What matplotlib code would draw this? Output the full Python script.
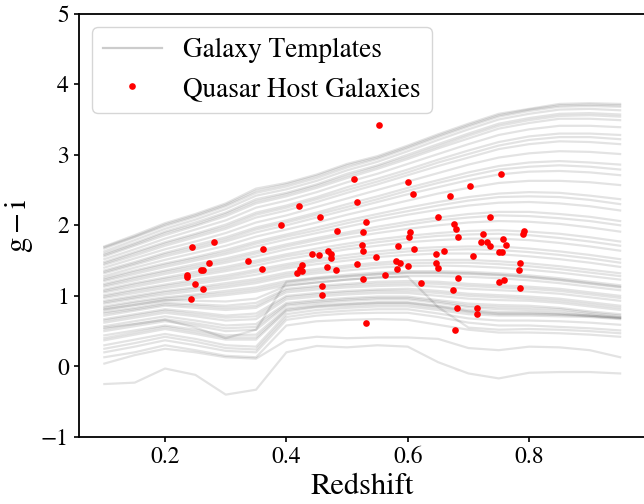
import matplotlib.pyplot as plt
from matplotlib.lines import Line2D

# Times-like look: STIX ships with matplotlib
plt.rcParams['font.family'] = 'STIXGeneral'
plt.rcParams['mathtext.fontset'] = 'stix'

# redshift grid of the template tracks
z_grid = [0.10, 0.15, 0.20, 0.25, 0.30, 0.35, 0.40, 0.45, 0.50,
          0.55, 0.60, 0.65, 0.70, 0.75, 0.80, 0.85, 0.90, 0.95]

# g-i colour tracks
templates = [
    [1.70, 1.86, 2.03, 2.16, 2.31, 2.52, 2.60, 2.72, 2.87, 2.98, 3.13, 3.29, 3.44, 3.58, 3.65, 3.72, 3.73, 3.72],
    [1.69, 1.84, 2.01, 2.14, 2.29, 2.49, 2.58, 2.70, 2.85, 2.96, 3.11, 3.27, 3.42, 3.56, 3.64, 3.70, 3.71, 3.70],
    [1.67, 1.83, 1.99, 2.12, 2.27, 2.46, 2.55, 2.67, 2.82, 2.94, 3.09, 3.25, 3.40, 3.54, 3.62, 3.68, 3.69, 3.68],
    [1.63, 1.79, 1.95, 2.08, 2.23, 2.42, 2.51, 2.63, 2.78, 2.90, 3.05, 3.21, 3.36, 3.50, 3.58, 3.64, 3.65, 3.63],
    [1.60, 1.75, 1.91, 2.04, 2.18, 2.37, 2.46, 2.58, 2.73, 2.85, 3.00, 3.15, 3.30, 3.44, 3.52, 3.58, 3.59, 3.57],
    [1.58, 1.73, 1.89, 2.01, 2.16, 2.34, 2.44, 2.56, 2.70, 2.83, 2.97, 3.12, 3.27, 3.41, 3.49, 3.55, 3.56, 3.54],
    [1.56, 1.71, 1.86, 1.99, 2.13, 2.31, 2.41, 2.53, 2.67, 2.80, 2.94, 3.09, 3.23, 3.37, 3.45, 3.51, 3.51, 3.49],
    [1.52, 1.66, 1.81, 1.94, 2.07, 2.25, 2.35, 2.47, 2.61, 2.73, 2.87, 3.01, 3.15, 3.28, 3.36, 3.41, 3.41, 3.39],
    [1.48, 1.62, 1.76, 1.88, 2.01, 2.18, 2.28, 2.40, 2.54, 2.66, 2.79, 2.93, 3.06, 3.18, 3.26, 3.30, 3.30, 3.28],
    [1.46, 1.60, 1.74, 1.86, 1.98, 2.15, 2.25, 2.37, 2.50, 2.62, 2.75, 2.89, 3.01, 3.13, 3.21, 3.25, 3.25, 3.22],
    [1.44, 1.57, 1.71, 1.83, 1.95, 2.11, 2.21, 2.33, 2.46, 2.58, 2.71, 2.84, 2.96, 3.08, 3.15, 3.19, 3.18, 3.15],
    [1.40, 1.53, 1.66, 1.77, 1.89, 2.04, 2.14, 2.26, 2.38, 2.50, 2.62, 2.74, 2.86, 2.96, 3.02, 3.05, 3.04, 3.01],
    [1.36, 1.48, 1.61, 1.72, 1.83, 1.97, 2.07, 2.18, 2.30, 2.41, 2.53, 2.64, 2.75, 2.84, 2.89, 2.91, 2.89, 2.86],
    [1.34, 1.46, 1.59, 1.69, 1.80, 1.94, 2.04, 2.15, 2.26, 2.37, 2.49, 2.60, 2.70, 2.79, 2.83, 2.85, 2.83, 2.79],
    [1.32, 1.44, 1.56, 1.66, 1.77, 1.90, 2.00, 2.11, 2.22, 2.33, 2.44, 2.54, 2.64, 2.72, 2.76, 2.77, 2.75, 2.71],
    [1.28, 1.40, 1.51, 1.61, 1.71, 1.84, 1.94, 2.04, 2.15, 2.25, 2.35, 2.45, 2.53, 2.60, 2.63, 2.63, 2.61, 2.57],
    [1.25, 1.36, 1.46, 1.55, 1.65, 1.77, 1.87, 1.97, 2.07, 2.16, 2.25, 2.33, 2.40, 2.45, 2.47, 2.46, 2.42, 2.37],
    [1.23, 1.34, 1.44, 1.53, 1.62, 1.74, 1.84, 1.93, 2.03, 2.12, 2.20, 2.28, 2.35, 2.40, 2.41, 2.40, 2.36, 2.30],
    [1.21, 1.31, 1.41, 1.50, 1.59, 1.70, 1.80, 1.89, 1.98, 2.07, 2.15, 2.22, 2.28, 2.32, 2.33, 2.31, 2.27, 2.21],
    [1.17, 1.27, 1.36, 1.45, 1.53, 1.63, 1.73, 1.82, 1.90, 1.98, 2.05, 2.11, 2.16, 2.19, 2.19, 2.16, 2.12, 2.06],
    [1.15, 1.25, 1.34, 1.42, 1.50, 1.60, 1.70, 1.79, 1.87, 1.94, 2.01, 2.07, 2.11, 2.14, 2.13, 2.10, 2.06, 2.00],
    [1.13, 1.22, 1.31, 1.39, 1.47, 1.56, 1.66, 1.74, 1.82, 1.89, 1.95, 2.00, 2.04, 2.06, 2.05, 2.02, 1.97, 1.91],
    [1.09, 1.18, 1.26, 1.34, 1.41, 1.50, 1.59, 1.67, 1.74, 1.80, 1.85, 1.89, 1.92, 1.93, 1.91, 1.88, 1.83, 1.77],
    [1.07, 1.16, 1.24, 1.31, 1.38, 1.47, 1.56, 1.63, 1.70, 1.76, 1.81, 1.85, 1.87, 1.88, 1.86, 1.82, 1.77, 1.71],
    [1.05, 1.13, 1.21, 1.28, 1.35, 1.43, 1.52, 1.59, 1.66, 1.71, 1.76, 1.79, 1.81, 1.81, 1.79, 1.75, 1.70, 1.64],
    [1.01, 1.09, 1.16, 1.23, 1.29, 1.37, 1.45, 1.52, 1.58, 1.63, 1.67, 1.69, 1.70, 1.70, 1.67, 1.63, 1.58, 1.52],
    [0.99, 1.07, 1.14, 1.20, 1.26, 1.34, 1.42, 1.49, 1.54, 1.59, 1.63, 1.65, 1.66, 1.65, 1.62, 1.58, 1.53, 1.47],
    [0.97, 1.04, 1.11, 1.17, 1.23, 1.30, 1.39, 1.45, 1.50, 1.55, 1.58, 1.60, 1.60, 1.59, 1.56, 1.52, 1.47, 1.41],
    [0.93, 1.00, 1.07, 1.12, 1.18, 1.24, 1.33, 1.38, 1.43, 1.47, 1.50, 1.51, 1.51, 1.49, 1.46, 1.42, 1.37, 1.32],
    [0.91, 0.98, 1.05, 1.10, 1.15, 1.21, 1.30, 1.35, 1.40, 1.44, 1.46, 1.47, 1.47, 1.45, 1.42, 1.38, 1.33, 1.28],
    [0.89, 0.96, 1.02, 1.07, 1.12, 1.18, 1.27, 1.32, 1.36, 1.40, 1.42, 1.43, 1.42, 1.40, 1.37, 1.33, 1.28, 1.23],
    [0.85, 0.92, 0.98, 1.02, 1.07, 1.12, 1.21, 1.26, 1.30, 1.33, 1.35, 1.35, 1.34, 1.32, 1.29, 1.25, 1.20, 1.15],
    [0.83, 0.90, 0.96, 1.00, 1.04, 1.09, 1.18, 1.23, 1.27, 1.30, 1.32, 1.32, 1.31, 1.29, 1.26, 1.22, 1.17, 1.12],
    [0.81, 0.87, 0.93, 0.97, 1.01, 1.06, 1.15, 1.19, 1.23, 1.26, 1.28, 1.28, 1.27, 1.25, 1.22, 1.18, 1.13, 1.08],
    [0.77, 0.83, 0.90, 0.88, 0.86, 0.90, 1.10, 1.14, 1.17, 1.20, 1.21, 1.20, 1.17, 1.15, 1.13, 1.10, 1.05, 1.00],
    [0.75, 0.81, 0.88, 0.86, 0.83, 0.86, 1.08, 1.12, 1.15, 1.17, 1.18, 1.17, 1.14, 1.12, 1.10, 1.07, 1.02, 0.97],
    [0.72, 0.79, 0.86, 0.83, 0.80, 0.83, 1.05, 1.09, 1.12, 1.14, 1.15, 1.13, 1.10, 1.08, 1.06, 1.03, 0.98, 0.93],
    [0.67, 0.74, 0.81, 0.77, 0.72, 0.75, 1.00, 1.04, 1.07, 1.09, 1.10, 1.07, 1.03, 1.01, 0.99, 0.96, 0.91, 0.86],
    [0.65, 0.72, 0.79, 0.74, 0.69, 0.71, 0.98, 1.02, 1.05, 1.07, 1.07, 1.04, 1.00, 0.98, 0.96, 0.93, 0.88, 0.83],
    [0.62, 0.69, 0.76, 0.71, 0.65, 0.67, 0.95, 0.99, 1.02, 1.04, 1.04, 1.00, 0.96, 0.94, 0.93, 0.90, 0.85, 0.80],
    [0.57, 0.64, 0.71, 0.65, 0.58, 0.60, 0.90, 0.94, 0.97, 0.99, 0.99, 0.94, 0.89, 0.87, 0.86, 0.83, 0.78, 0.74],
    [0.53, 0.60, 0.67, 0.61, 0.54, 0.56, 0.88, 0.92, 0.95, 0.97, 0.97, 0.92, 0.86, 0.84, 0.83, 0.81, 0.76, 0.72],
    [0.50, 0.57, 0.64, 0.58, 0.50, 0.52, 0.86, 0.90, 0.93, 0.95, 0.95, 0.90, 0.84, 0.81, 0.80, 0.78, 0.74, 0.70],
    [0.44, 0.51, 0.58, 0.52, 0.44, 0.45, 0.82, 0.87, 0.89, 0.91, 0.91, 0.86, 0.80, 0.77, 0.77, 0.75, 0.72, 0.69],
    [0.40, 0.48, 0.56, 0.49, 0.41, 0.41, 0.80, 0.85, 0.88, 0.90, 0.90, 0.85, 0.78, 0.75, 0.75, 0.74, 0.72, 0.69],
    [0.37, 0.45, 0.53, 0.46, 0.38, 0.38, 0.78, 0.84, 0.86, 0.88, 0.88, 0.83, 0.77, 0.74, 0.74, 0.73, 0.71, 0.68],
    [0.30, 0.38, 0.46, 0.39, 0.30, 0.28, 0.74, 0.80, 0.83, 0.85, 0.85, 0.80, 0.74, 0.72, 0.72, 0.71, 0.70, 0.67],
    [0.25, 0.33, 0.42, 0.35, 0.26, 0.24, 0.70, 0.76, 0.79, 0.81, 0.81, 0.75, 0.68, 0.65, 0.65, 0.64, 0.62, 0.59],
    [0.20, 0.28, 0.37, 0.30, 0.22, 0.20, 0.66, 0.72, 0.75, 0.76, 0.76, 0.70, 0.62, 0.58, 0.58, 0.56, 0.54, 0.51],
    [0.13, 0.20, 0.30, 0.23, 0.15, 0.13, 0.58, 0.64, 0.66, 0.67, 0.66, 0.59, 0.52, 0.48, 0.48, 0.47, 0.45, 0.42],
    [0.55, 0.60, 0.66, 0.55, 0.40, 0.52, 1.20, 1.25, 1.28, 1.31, 1.33, 1.33, 1.32, 1.30, 1.27, 1.23, 1.18, 1.13],
    [0.80, 0.87, 0.94, 0.93, 0.92, 0.96, 1.14, 1.19, 1.23, 1.26, 1.27, 0.84, 0.55, 0.52, 0.53, 0.52, 0.50, 0.47],
    [0.04, 0.16, 0.25, 0.20, 0.13, 0.11, 0.37, 0.42, 0.40, 0.41, 0.41, 0.39, 0.26, 0.23, 0.28, 0.27, 0.23, 0.13],
    [-0.25, -0.23, -0.03, -0.12, -0.40, -0.33, 0.20, 0.29, 0.27, 0.30, 0.28, 0.06, -0.10, -0.17, -0.09, -0.08, -0.08, -0.10],
]

# quasar host galaxies
host_z = [0.553, 0.511, 0.753, 0.600, 0.702, 0.608, 0.670, 0.517, 0.420, 0.456,
          0.650, 0.735, 0.531, 0.677, 0.391, 0.483, 0.792, 0.790, 0.527, 0.603,
          0.602, 0.680, 0.683, 0.724, 0.720, 0.730, 0.736, 0.757, 0.762, 0.280,
          0.244, 0.362, 0.442, 0.454, 0.469, 0.473, 0.473, 0.525, 0.526, 0.584,
          0.610, 0.548, 0.647, 0.660, 0.708, 0.751, 0.756, 0.337, 0.272, 0.259,
          0.263, 0.237, 0.237, 0.359, 0.425, 0.423, 0.426, 0.418, 0.467, 0.481,
          0.517, 0.581, 0.588, 0.583, 0.600, 0.646, 0.650, 0.785, 0.783, 0.249,
          0.263, 0.242, 0.459, 0.458, 0.527, 0.563, 0.621, 0.683, 0.674, 0.751,
          0.758, 0.785, 0.681, 0.714, 0.714, 0.532, 0.678]
host_gi = [3.42, 2.65, 2.73, 2.62, 2.56, 2.45, 2.41, 2.33, 2.27, 2.12,
           2.12, 2.12, 2.04, 2.02, 2.01, 1.92, 1.92, 1.88, 1.90, 1.90,
           1.83, 1.95, 1.83, 1.88, 1.76, 1.76, 1.70, 1.81, 1.72, 1.76,
           1.69, 1.67, 1.60, 1.58, 1.63, 1.60, 1.54, 1.72, 1.63, 1.70,
           1.66, 1.55, 1.59, 1.64, 1.57, 1.62, 1.62, 1.50, 1.47, 1.36,
           1.36, 1.30, 1.27, 1.38, 1.44, 1.38, 1.35, 1.33, 1.41, 1.37,
           1.45, 1.50, 1.47, 1.38, 1.43, 1.46, 1.40, 1.47, 1.36, 1.17,
           1.09, 0.96, 1.14, 1.01, 1.24, 1.30, 1.18, 1.25, 1.08, 1.20,
           1.22, 1.11, 0.83, 0.83, 0.74, 0.62, 0.52]

fig = plt.figure(figsize=(6.44, 5.04), dpi=100)
ax = fig.add_axes([0.122, 0.133, 0.881, 0.840])

for track in templates:
    ax.plot(z_grid, track, color='k', alpha=0.11, lw=1.6)
ax.plot(host_z, host_gi, 'o', color='red', ms=4.8, mew=0, zorder=3,
        label='Quasar Host Galaxies')

ax.set_ylim(-1, 5)
ax.set_xticks([0.2, 0.4, 0.6, 0.8])
ax.set_xlabel('Redshift', fontsize=22)
ax.set_ylabel(r'$\mathrm{g-i}$', fontsize=22)
ax.tick_params(labelsize=17, width=1.2)
for side in ['left', 'bottom', 'top', 'right']:
    ax.spines[side].set_linewidth(1.3)

# legend: proxy for the template tracks
tmpl_handle = Line2D([], [], color='k', alpha=0.2, lw=1.6, label='Galaxy Templates')
host_handle = ax.get_legend_handles_labels()[0][0]
ax.legend(handles=[tmpl_handle, host_handle], loc='upper left', fontsize=19.6,
          handlelength=2.15)

plt.savefig('out.png', dpi=100)
